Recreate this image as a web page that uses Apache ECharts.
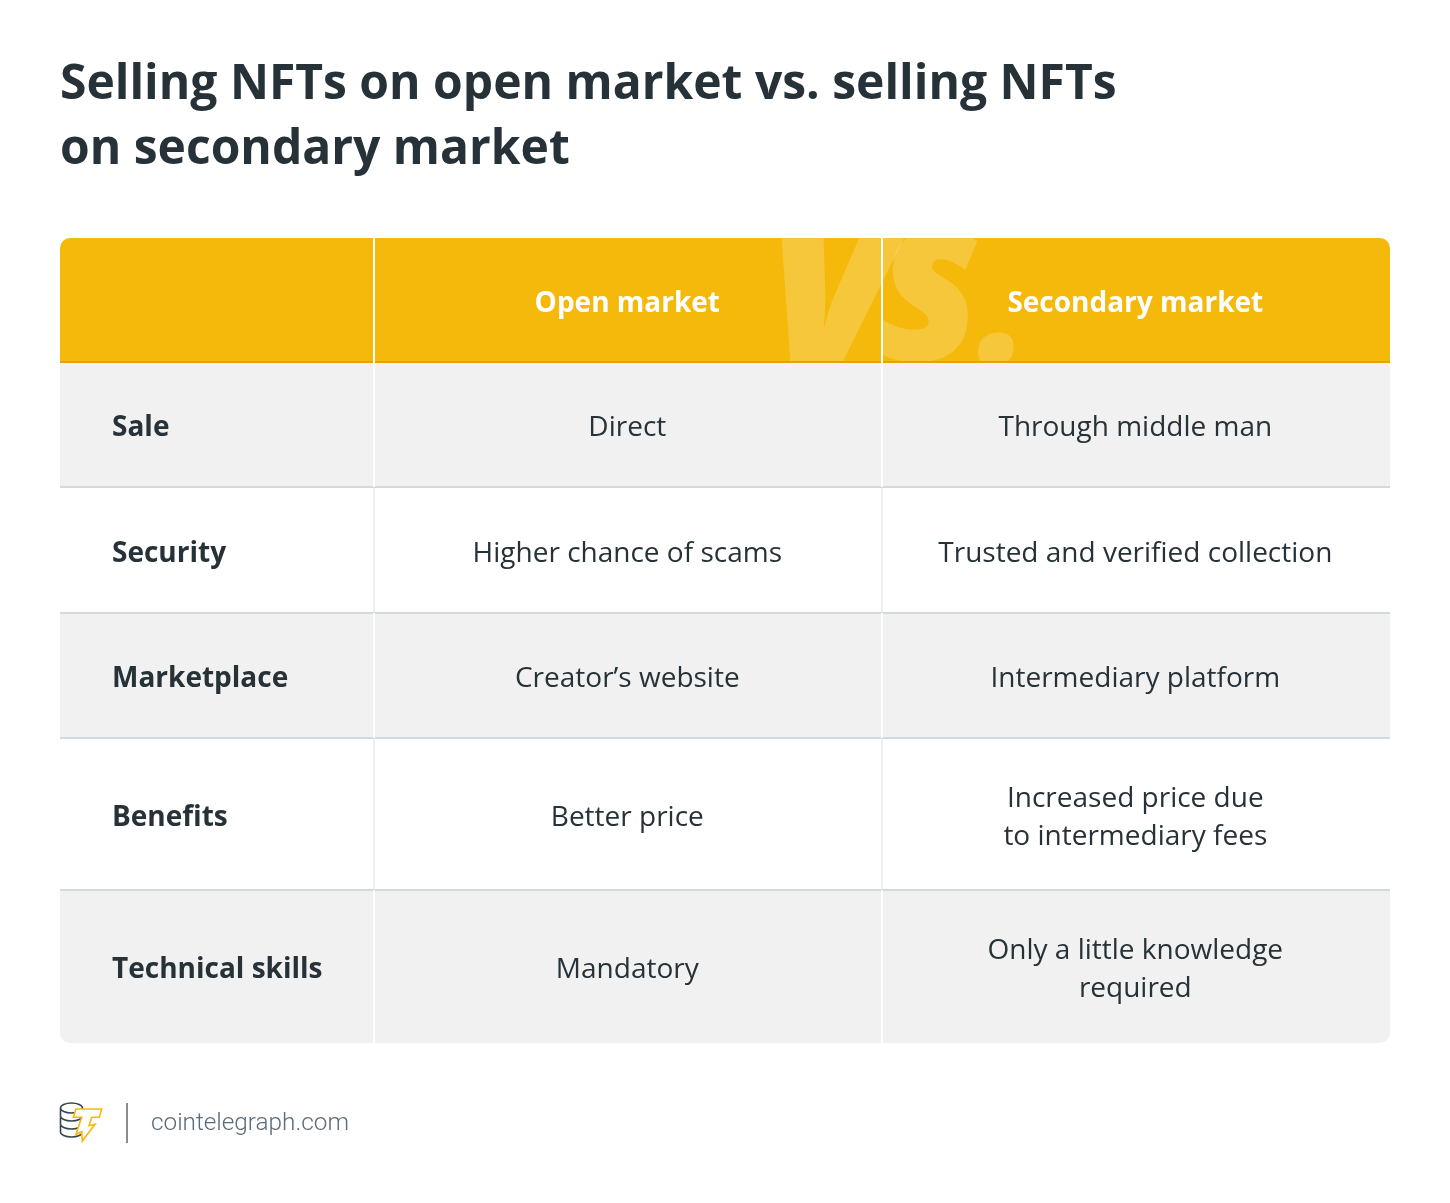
<!DOCTYPE html>
<html>
<head>
<meta charset="utf-8">
<title>Selling NFTs</title>
<script src="https://cdn.jsdelivr.net/npm/echarts@6/dist/echarts.min.js"></script>
<style>
	html,body{margin:0;padding:0;background:#fff;}
	#main{width:1450px;height:1203px;}
</style>
</head>
<body>
<div id="main"></div>
<script>
// table content
var titleText = 'Selling NFTs on open market vs. selling NFTs\non secondary market';
var columnHeaders = ['', 'Open market', 'Secondary market'];
var rowLabels = ['Sale', 'Security', 'Marketplace', 'Benefits', 'Technical skills'];
var openMarket = ['Direct', 'Higher chance of scams', 'Creator\u2019s website', 'Better price', 'Mandatory'];
var secondaryMarket = ['Through middle man', 'Trusted and verified collection', 'Intermediary platform', 'Increased price due\nto intermediary fees', 'Only a little knowledge\nrequired'];
var sourceText = 'cointelegraph.com';

// table layout, in axis units (1 unit = 1 px inside the grid)
var colEdges = [0, 314, 822, 1330];
var rowEdges = [0, 124, 249, 375, 500, 652, 805];
var rowFill = ['#f1f1f1', '#ffffff', '#f1f1f1', '#ffffff', '#f1f1f1'];
var darkText = '#263238';
var fontName = '"Open Sans"';

var myChart = echarts.init(document.getElementById('main'), null, {renderer: 'canvas'});

function box(api, x0, y0, x1, y1) {
	var a = api.coord([x0, y0]);
	var b = api.coord([x1, y1]);
	return {x: a[0], y: a[1], width: b[0] - a[0], height: b[1] - a[1]};
}

// header band
function renderHeader(params, api) {
	var s = box(api, colEdges[0], rowEdges[0], colEdges[3], rowEdges[1]);
	s.r = [10, 10, 0, 0];
	return {type: 'rect', shape: s, style: {fill: '#f5b90b'}};
}

// one body row
function renderRow(params, api) {
	var i = api.value(0);
	var s = box(api, colEdges[0], rowEdges[i + 1], colEdges[3], rowEdges[i + 2]);
	s.r = i === rowLabels.length - 1 ? [0, 0, 10, 10] : 0;
	return {type: 'rect', shape: s, style: {fill: rowFill[i]}};
}

// horizontal rules, then vertical separators on top of them
function renderSeparators(params, api) {
	var children = [];
	rowEdges.slice(1, -1).forEach(function (edge, r) {
		var s = box(api, colEdges[0], edge, colEdges[3], edge);
		children.push({
			type: 'rect',
			shape: {x: s.x, y: s.y - 1, width: s.width, height: 2},
			style: {fill: r === 0 ? '#dfa703' : '#d3dadd'}
		});
	});
	[1, 2].forEach(function (c) {
		rowEdges.slice(0, -1).forEach(function (top, r) {
			var s = box(api, colEdges[c], top, colEdges[c], rowEdges[r + 1]);
			var faint = rowFill[r - 1] === '#ffffff';
			var inset = faint ? 1 : 0;
			children.push({
				type: 'rect',
				shape: {x: s.x - 1, y: s.y + inset, width: 2, height: s.height - inset * 2},
				style: {fill: faint ? '#eff1f1' : '#ffffff'}
			});
		});
	});
	return {type: 'group', children: children};
}

// cell text
function renderCell(params, api) {
	var c = api.value(0), r = api.value(1);
	var isHeader = r === 0;
	var s = box(api, colEdges[c], rowEdges[r], colEdges[c + 1], rowEdges[r + 1]);
	var txt = isHeader ? columnHeaders[c] : [rowLabels, openMarket, secondaryMarket][c][r - 1];
	var left = c === 0;
	return {
		type: 'text',
		style: {
			x: left ? s.x + 52 : s.x + s.width / 2 - 0.7,
			y: s.y + s.height / 2 + 4,
			text: txt,
			align: left ? 'left' : 'center',
			verticalAlign: 'middle',
			fontFamily: fontName,
			fontSize: 28,
			lineHeight: 38,
			fontWeight: (isHeader || left) ? 700 : 400,
			fill: isHeader ? '#ffffff' : darkText
		}
	};
}

// coin stack of the footer mark
function renderCoins() {
	return {
		type: 'path',
		shape: {
			pathData: 'M60.5 1108a11 5 0 1 0 22 0a11 5 0 1 0 -22 0M60.5 1108v24a11 5 0 0 0 22 0v-24M60.5 1116a11 5 0 0 0 22 0M60.5 1124a11 5 0 0 0 22 0',
			x: 60, y: 1103, width: 23, height: 34
		},
		style: {fill: 'none', stroke: '#37474f', lineWidth: 1.6}
	};
}

// one glyph of the faded "Vs." behind the header
function vsGlyph(ch, x, y, size, sx) {
	return {
		type: 'text', z: 2, x: x, y: y, scaleX: sx,
		style: {text: ch, fontFamily: fontName, fontSize: size, fontWeight: 800, fontStyle: 'italic', fill: 'rgba(255,255,255,0.2)'}
	};
}

var rowIndex = rowLabels.map(function (d, i) { return [i]; });
var cellIndex = [];
columnHeaders.forEach(function (d, c) {
	[''].concat(rowLabels).forEach(function (e, r) {
		if (c > 0 || r > 0) cellIndex.push([c, r]);
	});
});

var option = {
	animation: false,
	backgroundColor: '#ffffff',
	title: {
		text: titleText,
		left: 55,
		top: 47.5,
		textStyle: {fontFamily: fontName, fontSize: 48, fontWeight: 700, color: darkText, lineHeight: 65.5}
	},
	grid: {left: 60, top: 238, width: 1330, height: 805, containLabel: false},
	xAxis: {type: 'value', min: 0, max: 1330, show: false},
	yAxis: {type: 'value', min: 0, max: 805, inverse: true, show: false},
	graphic: [
		// overflow of the glyphs is hidden by the white cover and by the rows
		vsGlyph('V', 762, 185, 232, 1),
		vsGlyph('s', 879, 178, 232, 0.88),
		vsGlyph('.', 978, 228, 172, 1),
		{type: 'rect', z: 3, shape: {x: 700, y: 178, width: 400, height: 60}, style: {fill: '#ffffff'}},
		// footer mark
		{type: 'polygon', z: 7, shape: {points: [[76, 1109], [101.7, 1109], [99.3, 1117.3], [91.7, 1117.3], [89, 1125.7], [95, 1124.3], [82.3, 1141], [81.7, 1131.7], [76, 1134.3], [81.7, 1117.3], [73.3, 1117.3]]}, style: {fill: '#ffffff', stroke: '#f5b90b', lineWidth: 1.6}},
		{type: 'rect', z: 6, shape: {x: 126, y: 1103, width: 2, height: 40}, style: {fill: '#8c8c8c'}},
		{type: 'text', z: 6, style: {x: 151, y: 1124, text: sourceText, verticalAlign: 'middle', fontFamily: 'Roboto', fontSize: 24.3, fontWeight: 300, fill: '#5b6b78'}}
	],
	series: [
		{type: 'custom', coordinateSystem: 'cartesian2d', z: 1, silent: true, clip: false, renderItem: renderHeader, data: [[0]]},
		{type: 'custom', coordinateSystem: 'cartesian2d', z: 4, silent: true, clip: false, renderItem: renderRow, data: rowIndex},
		{type: 'custom', coordinateSystem: 'cartesian2d', z: 5, silent: true, clip: false, renderItem: renderSeparators, data: [[0]]},
		{type: 'custom', coordinateSystem: 'cartesian2d', z: 6, silent: true, clip: false, renderItem: renderCell, data: cellIndex},
		{type: 'custom', coordinateSystem: 'cartesian2d', z: 6, silent: true, clip: false, renderItem: renderCoins, data: [[0]]}
	]
};

myChart.setOption(option);
</script>
</body>
</html>
